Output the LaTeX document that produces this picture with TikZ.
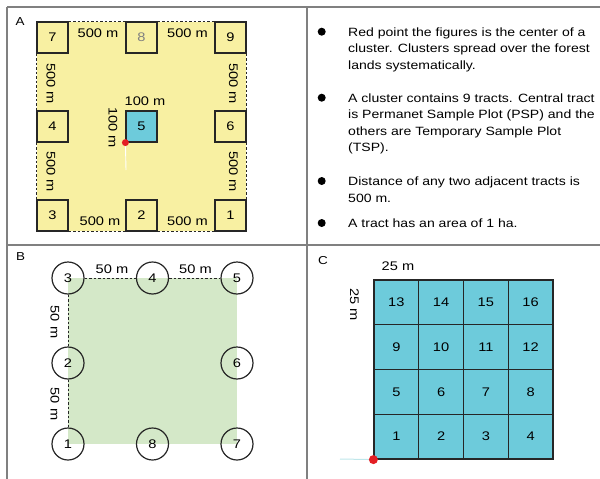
\documentclass[tikz,border=0pt]{standalone}
\usepackage{fontspec}
\setmainfont[FakeStretch=1.17]{Liberation Sans}
\definecolor{frameg}{HTML}{808080}
\definecolor{yel}{HTML}{F8F0A2}
\definecolor{cyanf}{HTML}{6DCBDB}
\definecolor{grn}{HTML}{D4E8C8}
\definecolor{redp}{HTML}{E31E24}
\definecolor{ink}{HTML}{262626}
\definecolor{lcyan}{HTML}{BFE6EA}
\tikzset{
  frameline/.style={draw=frameg, line width=1.6pt},
  tract/.style={draw=ink, line width=1.2pt, fill=yel, minimum size=31pt, inner sep=0pt, font=\fontsize{12.5}{14}\selectfont},
  psp/.style={tract, fill=cyanf},
  cell/.style={draw=ink, line width=1.2pt, fill=cyanf, minimum size=44.75pt, inner sep=0pt, font=\fontsize{12.5}{14}\selectfont},
  circ/.style={circle, draw=ink, line width=1.2pt, minimum size=32pt, inner sep=0pt, font=\fontsize{12.5}{14}\selectfont},
  dashline/.style={draw=ink, line width=0.8pt, dash pattern=on 2.5pt off 2pt},
  lab/.style={inner sep=0pt, font=\fontsize{12.5}{14}\selectfont},
  panel/.style={inner sep=0pt, font=\fontsize{11.5}{13}\selectfont},
  reddot/.style={circle, fill=redp, draw=none, minimum size=7pt, inner sep=0pt},
  bulletdot/.style={circle, fill=black, draw=none, minimum size=8pt, inner sep=0pt},
  para/.style={anchor=north west, align=left, inner sep=0pt, font=\fontsize{12}{16.6}\selectfont},
}
\begin{document}
\begin{tikzpicture}[x=1pt, y=-1pt]
\useasboundingbox (0,0) rectangle (600,479);
% frame
\draw[frameline] (7,7) -- (600,7);
\draw[frameline] (7,7) -- (7,479);
\draw[frameline] (307,7) -- (307,479);
\draw[frameline] (7,245) -- (600,245);

% ---------- Panel A ----------
\node[panel] (lA) at (20,22) {A};
\fill[yel] (37,22) rectangle (246,231);
\node[tract] (b7) at (52.5,37.5) {7};
\node[tract] (b8) at (141.5,37.5) {\textcolor{gray}{8}};
\node[tract] (b9) at (230.5,37.5) {9};
\node[tract] (b4) at (52.5,126.5) {4};
\node[psp]   (b5) at (141.5,126.5) {5};
\node[tract] (b6) at (230.5,126.5) {6};
\node[tract] (b3) at (52.5,215.5) {3};
\node[tract] (b2) at (141.5,215.5) {2};
\node[tract] (b1) at (230.5,215.5) {1};
\draw[dashline] (b7.north east) -- (b8.north west);
\draw[dashline] (b8.north east) -- (b9.north west);
\draw[dashline] (b9.south east) -- (b6.north east);
\draw[dashline] (b6.south east) -- (b1.north east);
\draw[dashline] (b7.south west) -- (b4.north west);
\draw[dashline] (b4.south west) -- (b3.north west);
\draw[dashline] (b3.south east) -- (b2.south west);
\draw[dashline] (b2.south east) -- (b1.south west);
\node[lab] (t1) at (98,33) {500 m};
\node[lab] (t2) at (187.5,33) {500 m};
\node[lab] (t3) at (100,221) {500 m};
\node[lab] (t4) at (187.5,221) {500 m};
\node[lab, rotate=-90] (t5) at (51,83.5) {500 m};
\node[lab, rotate=-90] (t6) at (51,171.5) {500 m};
\node[lab, rotate=-90] (t7) at (233.5,83.5) {500 m};
\node[lab, rotate=-90] (t8) at (233.5,171.5) {500 m};
\node[lab] (t9) at (145,101.5) {100 m};
\node[lab, rotate=-90] (t10) at (113,127.5) {100 m};
\coordinate (cA) at (b5.south west);
\coordinate (wA) at (126,170);
\draw[white, line width=0.9pt] (cA) -- (wA);
\node[reddot] (rA) at (cA) {};

% ---------- Text panel ----------
\node[bulletdot] (d1) at (321.7,31.7) {};
\node[bulletdot] (d2) at (321.7,97.7) {};
\node[bulletdot] (d3) at (321.7,181) {};
\node[bulletdot] (d4) at (321.7,223) {};
\node[para] (p1) at (348,27.3) {Red point the figures is the center of a\\cluster. Clusters spread over the forest\\lands systematically.};
\node[para] (p2) at (348,93.3) {A cluster contains 9 tracts. Central tract\\is Permanet Sample Plot (PSP) and the\\others are Temporary Sample Plot\\(TSP).};
\node[para] (p3) at (348,176.6) {Distance of any two adjacent tracts is\\500 m.};
\node[para] (p4) at (348,218.6) {A tract has an area of 1 ha.};

% ---------- Panel B ----------
\node[panel] (lB) at (20.7,256.7) {B};
\fill[grn] (68,278) rectangle (237,444);
\node[circ] (k3) at (68,278) {3};
\node[circ] (k4) at (152.5,278) {4};
\node[circ] (k5) at (237,278) {5};
\node[circ] (k2) at (68,363) {2};
\node[circ] (k6) at (237,363) {6};
\node[circ] (k1) at (68,444) {1};
\node[circ] (k8) at (152.5,444) {8};
\node[circ] (k7) at (237,444) {7};
\draw[dashline] (k3) -- (k4);
\draw[dashline] (k4) -- (k5);
\draw[dashline] (k3) -- (k2);
\draw[dashline] (k2) -- (k1);
\node[lab] (s1) at (112,269) {50 m};
\node[lab] (s2) at (195.5,269) {50 m};
\node[lab, rotate=-90] (s3) at (55,322) {50 m};
\node[lab, rotate=-90] (s4) at (55,404) {50 m};

% ---------- Panel C ----------
\node[panel] (lC) at (323,261) {C};
\foreach \n in {1,...,16}{
  \pgfmathtruncatemacro{\cc}{mod(\n-1,4)}
  \pgfmathtruncatemacro{\rr}{(\n-1)/4}
  \node[cell] (c\n) at ({374+44.75*(\cc+0.5)},{459-44.75*(\rr+0.5)}) {\n};
}
\node[lab] (u1) at (398,266) {25 m};
\node[lab, rotate=-90] (u2) at (354.5,304.5) {25 m};
\coordinate (cC) at (c1.south west);
\coordinate (lC0) at (340,459);
\draw[lcyan, line width=1pt] (lC0) -- (cC);
\node[reddot, minimum size=9pt] (rC) at (cC) {};
\end{tikzpicture}
\end{document}
